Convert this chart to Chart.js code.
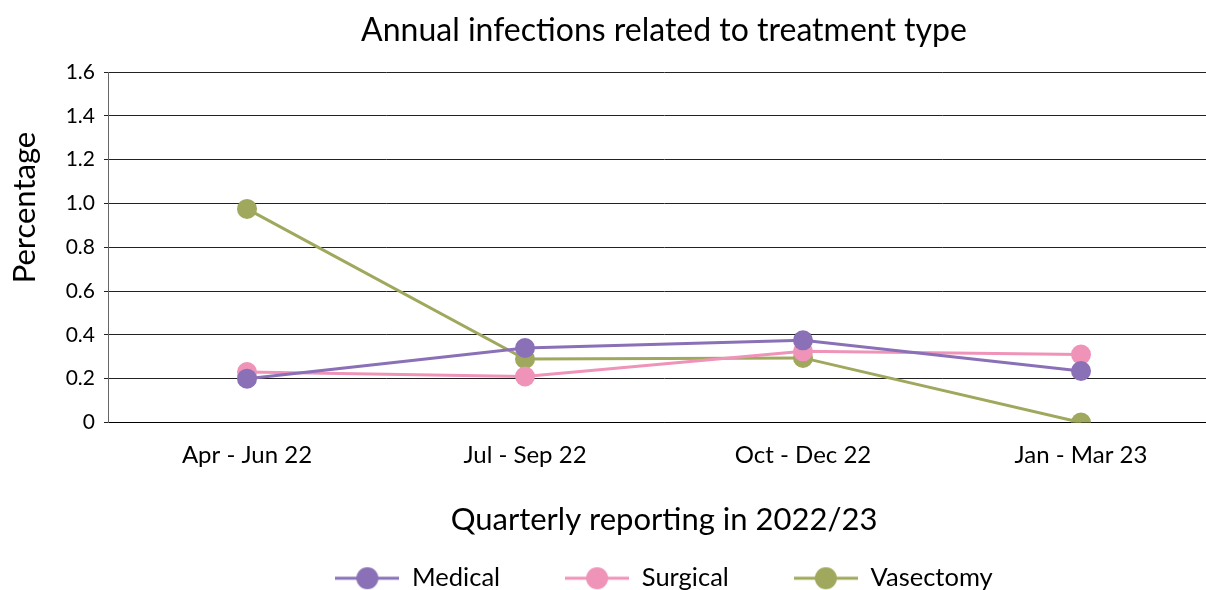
<!DOCTYPE html>
<html>
<head>
<meta charset="utf-8">
<script src="https://cdn.jsdelivr.net/npm/chart.js@4"></script>
<style>
  html, body { margin: 0; padding: 0; background: #fff; overflow: hidden; }
  /* plot in the original runs past the right edge and the legend is cut at the bottom */
  #wrap { width: 1230px; height: 601px; }
</style>
</head>
<body>
<div id="wrap"><canvas id="chart"></canvas></div>
<script>
// quarters on the x axis
const quarters = ['Apr - Jun 22', 'Jul - Sep 22', 'Oct - Dec 22', 'Jan - Mar 23'];

// infection percentage per quarter
const medical = [0.20, 0.34, 0.375, 0.235];
const surgical = [0.23, 0.21, 0.325, 0.31];
const vasectomy = [0.975, 0.29, 0.295, 0.0];

const seriesNames = ['Medical', 'Surgical', 'Vasectomy'];
const seriesColors = ['#8a70b6', '#ef93b8', '#a0a85d'];

const FONT = 'Lato, "Open Sans", sans-serif';

// legend marker: short line with a dot in the middle
function legendMarker(color) {
  const c = document.createElement('canvas');
  c.width = 64; c.height = 24;
  const g = c.getContext('2d');
  g.strokeStyle = color;
  g.lineWidth = 3;
  g.beginPath(); g.moveTo(0, 12); g.lineTo(64, 12); g.stroke();
  g.fillStyle = color;
  g.beginPath(); g.arc(32, 12, 11, 0, Math.PI * 2); g.fill();
  return c;
}

const values = [medical, surgical, vasectomy];
const datasets = seriesNames.map((name, i) => ({
  label: name,
  data: values[i],
  borderColor: seriesColors[i],
  backgroundColor: seriesColors[i],
  borderWidth: 3,
  pointRadius: 10,
  pointHoverRadius: 10,
  pointBorderWidth: 0,
  tension: 0,
  marker: legendMarker(seriesColors[i])
}));

new Chart(document.getElementById('chart'), {
  type: 'line',
  data: { labels: quarters, datasets },
  options: {
    responsive: true,
    maintainAspectRatio: false,
    animation: false,
    layout: { padding: { left: 0, right: 2, top: 0, bottom: 0 } },
    plugins: {
      title: {
        display: true,
        fullSize: false,
        text: 'Annual infections related to treatment type',
        color: '#000',
        font: { family: FONT, size: 32, weight: 'normal' },
        padding: { top: 11, bottom: 22.6 }
      },
      legend: {
        position: 'bottom',
        fullSize: false,
        labels: {
          color: '#000',
          font: { family: FONT, size: 25.5 },
          usePointStyle: true,
          pointStyleWidth: 64,
          padding: 65,
          generateLabels: chart => chart.data.datasets.map((ds, i) => ({
            text: ds.label,
            fillStyle: ds.borderColor,
            strokeStyle: ds.borderColor,
            pointStyle: ds.marker,
            datasetIndex: i,
            hidden: false,
            fontColor: '#000'
          }))
        }
      },
      tooltip: { enabled: false }
    },
    scales: {
      x: {
        offset: true,
        grid: { display: false, drawTicks: false },
        border: { color: '#000', width: 1 },
        ticks: { color: '#000', font: { family: FONT, size: 24 }, padding: 18 },
        title: {
          display: true,
          text: 'Quarterly reporting in 2022/23',
          color: '#000',
          font: { family: FONT, size: 31 },
          padding: { top: 13.6, bottom: -37.6 }
        }
      },
      y: {
        min: 0,
        max: 1.6,
        afterFit: scale => { scale.width = 108; },
        ticks: {
          stepSize: 0.2,
          color: '#000',
          font: { family: FONT, size: 21 },
          padding: 9,
          callback: v => v === 0 ? '0' : Number(v).toFixed(1)
        },
        grid: { color: '#222', lineWidth: 1, drawTicks: true, tickLength: 4 },
        border: { color: '#666', width: 1 },
        title: {
          display: true,
          // leading spaces lift the label above the middle, as in the original
          text: '          Percentage',
          color: '#000',
          font: { family: FONT, size: 31 },
          padding: { top: 6.4, bottom: 0 }
        }
      }
    }
  }
});
</script>
</body>
</html>
